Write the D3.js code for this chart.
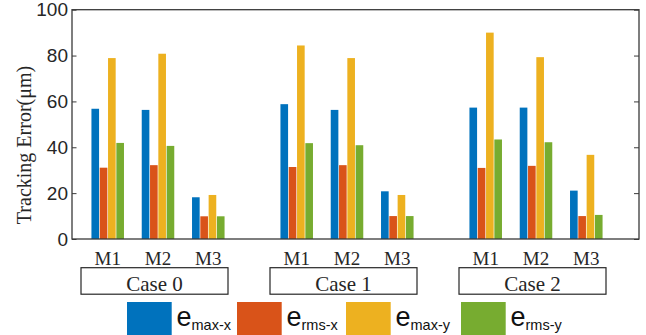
<!DOCTYPE html>
<html>
<head>
<meta charset="utf-8">
<script src="https://cdn.jsdelivr.net/npm/d3@7"></script>
<style>
  html, body { margin: 0; padding: 0; background: #fff; }
  svg { display: block; }
</style>
</head>
<body>
<svg id="chart" width="646" height="335"></svg>
<script>
// Tracking error (µm) per case and method
const cases = ["Case 0", "Case 1", "Case 2"];
const methods = ["M1", "M2", "M3"];
const seriesKeys = ["max-x", "rms-x", "max-y", "rms-y"];
const seriesColors = ["#0072BD", "#D95319", "#EDB120", "#77AC30"];
const yTicks = [0, 20, 40, 60, 80, 100];

// values[case][method] = [e_max-x, e_rms-x, e_max-y, e_rms-y]
const case0 = [[56.8, 31.1, 78.9, 41.9], [56.3, 32.2, 80.8, 40.6], [18.2, 9.9, 19.2, 9.9]];
const case1 = [[58.8, 31.4, 84.4, 41.8], [56.3, 32.2, 78.9, 40.9], [20.8, 10.0, 19.2, 10.0]];
const case2 = [[57.3, 31.0, 90.0, 43.4], [57.3, 31.9, 79.3, 42.2], [21.1, 10.0, 36.7, 10.5]];
const caseValues = [case0, case1, case2];

const svg = d3.select("#chart");
const plot = { left: 72, right: 639, top: 9.7, bottom: 239 };
const axisColor = "#3a3a3a";
const textColor = "#262626";

const y = d3.scaleLinear().domain([0, 100]).range([plot.bottom, plot.top]);

// Nested band scales: case -> method -> series
const x0 = d3.scaleBand().domain(cases).range([plot.left - 8.5, plot.right - 8.5]);
const x1 = d3.scaleBand().domain(methods).range([0, x0.bandwidth()]).paddingOuter(0.379);
const x2 = d3.scaleBand().domain(seriesKeys).range([0, x1.bandwidth()])
  .paddingInner(0.08).paddingOuter(1.07);

// Bars
const rows = [];
cases.forEach((c, ci) => methods.forEach((m, mi) => seriesKeys.forEach((s, si) => {
  rows.push({ c, m, s, si, v: caseValues[ci][mi][si] });
})));

svg.append("g").selectAll("rect").data(rows).join("rect")
  .attr("x", d => x0(d.c) + x1(d.m) + x2(d.s))
  .attr("width", x2.bandwidth())
  .attr("y", d => y(d.v))
  .attr("height", d => y(0) - y(d.v))
  .attr("fill", d => seriesColors[d.si]);

// Axes frame
svg.append("rect")
  .attr("x", plot.left).attr("y", plot.top)
  .attr("width", plot.right - plot.left).attr("height", plot.bottom - plot.top)
  .attr("fill", "none").attr("stroke", axisColor).attr("stroke-width", 1.3);

const fontSans = "'Liberation Sans', Arial, sans-serif";
const fontSerif = "'Liberation Serif', 'Times New Roman', serif";

const gl = svg.append("g").attr("transform", `translate(${plot.left},0)`)
  .call(d3.axisLeft(y).tickValues(yTicks).tickSize(-4.5).tickPadding(4));
gl.select(".domain").remove();
gl.selectAll("line").attr("stroke", axisColor);
gl.selectAll("text").attr("fill", textColor)
  .style("font-family", fontSans).style("font-size", "19px");

const gr = svg.append("g").attr("transform", `translate(${plot.right},0)`)
  .call(d3.axisRight(y).tickValues(yTicks).tickSize(-5).tickFormat(""));
gr.select(".domain").remove();
gr.selectAll("line").attr("stroke", axisColor);

// Y axis title
svg.append("text")
  .attr("transform", `translate(31,145) rotate(-90)`)
  .attr("text-anchor", "middle")
  .attr("fill", textColor)
  .style("font-family", fontSerif).style("font-size", "20px")
  .text("Tracking Error(μm)");

// Method labels
const methodRows = [];
cases.forEach(c => methods.forEach(m => methodRows.push({ c, m })));
svg.append("g").selectAll("text").data(methodRows).join("text")
  .attr("x", d => x0(d.c) + x1(d.m) + x1.bandwidth() / 2)
  .attr("y", 265)
  .attr("text-anchor", "middle")
  .attr("fill", textColor)
  .style("font-family", fontSerif).style("font-size", "19px")
  .text(d => d.m);

// Case boxes
const boxW = 147, boxH = 26.5;
const cg = svg.append("g").selectAll("g").data(cases).join("g")
  .attr("transform", d => `translate(${x0(d) + x0.bandwidth() / 2 - 3.5 - boxW / 2},267.7)`);
cg.append("rect")
  .attr("width", boxW).attr("height", boxH)
  .attr("fill", "#fff").attr("stroke", "#262626").attr("stroke-width", 1.2);
cg.append("text")
  .attr("x", boxW / 2).attr("y", 23.8)
  .attr("text-anchor", "middle")
  .attr("fill", textColor)
  .style("font-family", fontSerif).style("font-size", "21px")
  .text(d => d);

// Legend
const legendX = [127, 237, 346, 461];
const lg = svg.append("g").selectAll("g").data(seriesKeys).join("g")
  .attr("transform", (d, i) => `translate(${legendX[i]},302)`);
lg.append("rect")
  .attr("width", 44.7).attr("height", 34)
  .attr("fill", (d, i) => seriesColors[i]);
const lt = lg.append("text")
  .attr("x", 49.5).attr("y", 24)
  .attr("fill", "#111")
  .style("font-family", fontSans).style("font-size", "27px");
lt.append("tspan").text("e");
lt.append("tspan").attr("dy", 3.5).style("font-size", "14.5px").text(d => d);
</script>
</body>
</html>
